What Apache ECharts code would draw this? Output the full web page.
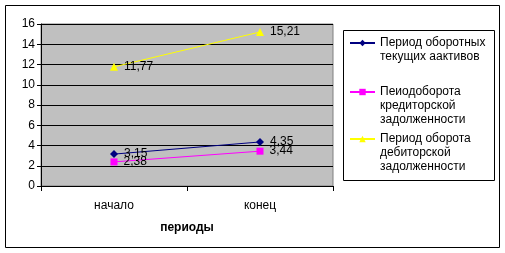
<!DOCTYPE html>
<html><head><meta charset="utf-8">
<script src="https://cdn.jsdelivr.net/npm/echarts@6/dist/echarts.min.js"></script>
<style>html,body{margin:0;padding:0;background:#fff}#c{width:505px;height:253px}</style>
</head><body><div id="c"></div>
<script>
const categories = ['начало', 'конец'];
const seriesNames = [
  'Период оборотных\nтекущих аактивов',
  'Пеиодоборота\nкредиторской\nзадолженности',
  'Период оборота\nдебиторской\nзадолженности'
];
const activesPeriod = [3.15, 4.35];
const creditorPeriod = [2.38, 3.44];
const debtorPeriod = [11.77, 15.21];
const yTicks = [0, 2, 4, 6, 8, 10, 12, 14, 16];
const xAxisTitle = 'периоды';

const FONT = 'Liberation Sans, Arial, sans-serif';
const colors = ['#000080', '#FF00FF', '#FFFF00'];
const symbols = ['diamond', 'rect', 'triangle'];
const symbolSizes = [8, 7, 8];
const dataSets = [activesPeriod, creditorPeriod, debtorPeriod];

const chart = echarts.init(document.getElementById('c'), null, {renderer: 'canvas'});

const series = dataSets.map((d, i) => ({
  name: seriesNames[i],
  type: 'line',
  data: d,
  symbol: symbols[i],
  symbolSize: symbolSizes[i],
  showAllSymbol: true,
  itemStyle: {color: colors[i]},
  lineStyle: {color: colors[i], width: 1},
  label: {
    show: true, position: 'right', distance: 6,
    color: '#000', fontFamily: FONT, fontSize: 12,
    formatter: p => String(p.value).replace('.', ',')
  },
  emphasis: {disabled: true},
  animation: false
}));

const legendTops = [22, 57, 104];
const legends = seriesNames.map((n, i) => {
  const lines = n.split('\n').length;
  return {
    orient: 'vertical',
    left: 349, top: legendTops[i],
    padding: 0,
    itemWidth: 25, itemHeight: 8,
    data: [n],
    formatter: name => '\n'.repeat(lines - 1) + name,
    textStyle: {fontFamily: FONT, fontSize: 12, lineHeight: 14, color: '#000'},
    selectedMode: false
  };
});

chart.setOption({
  animation: false,
  backgroundColor: '#fff',
  grid: {
    left: 41, top: 24, right: 172, bottom: 67,
    show: true, backgroundColor: '#C0C0C0', borderColor: '#808080', borderWidth: 1
  },
  legend: legends,
  xAxis: {
    type: 'category',
    data: categories,
    boundaryGap: true,
    name: xAxisTitle,
    nameLocation: 'middle',
    nameGap: 36,
    nameTextStyle: {fontFamily: FONT, fontSize: 12, fontWeight: 'bold', color: '#000'},
    axisLine: {lineStyle: {color: '#000', width: 1}},
    axisTick: {show: true, length: 5, lineStyle: {color: '#000'}},
    axisLabel: {fontFamily: FONT, fontSize: 12, color: '#000', margin: 14},
    splitLine: {show: false}
  },
  yAxis: {
    type: 'value',
    min: yTicks[0], max: yTicks[yTicks.length - 1], interval: yTicks[1] - yTicks[0],
    axisLine: {show: true, lineStyle: {color: '#000', width: 1}},
    axisTick: {show: true, length: 4, lineStyle: {color: '#000'}},
    axisLabel: {fontFamily: FONT, fontSize: 12, color: '#000', margin: 6},
    splitLine: {show: true, lineStyle: {color: '#000', width: 1}}
  },
  graphic: [
    {type: 'rect', shape: {x: 5.5, y: 5.5, width: 494, height: 242},
     style: {fill: null, stroke: '#000', lineWidth: 1}, z: -1, silent: true},
    {type: 'rect', shape: {x: 343.5, y: 30.5, width: 151, height: 150},
     style: {fill: '#fff', stroke: '#000', lineWidth: 1}, z: -1, silent: true}
  ],
  series: series
});
</script></body></html>
